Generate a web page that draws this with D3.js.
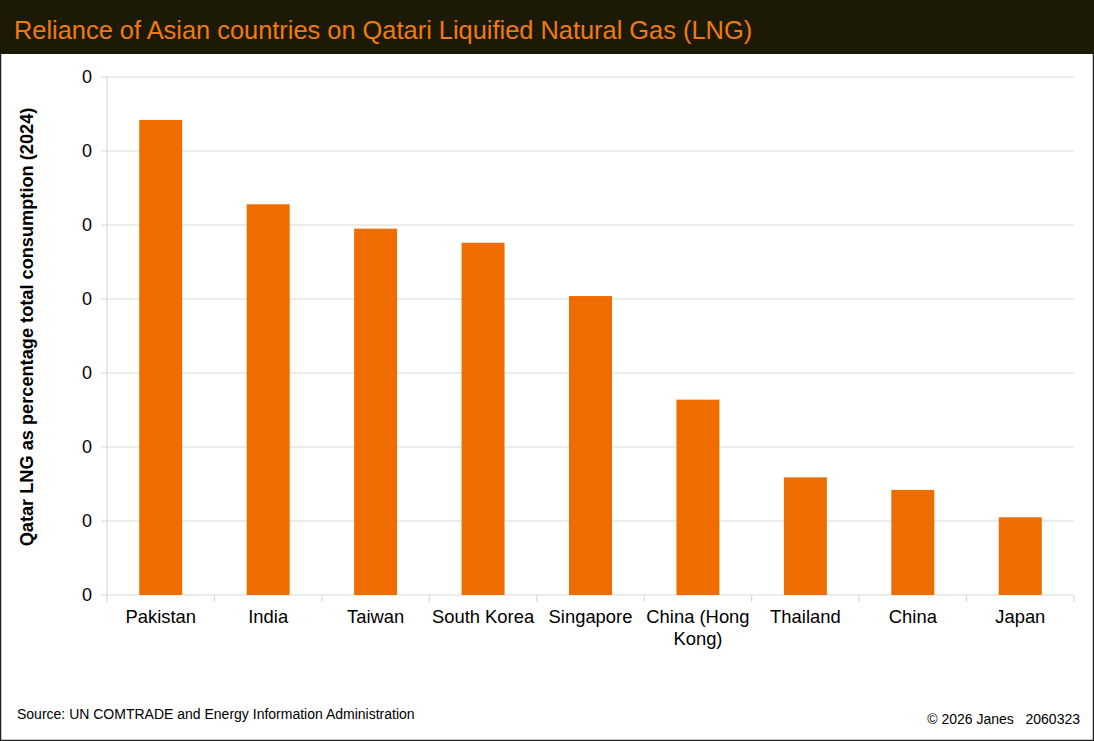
<!DOCTYPE html>
<html>
<head>
<meta charset="utf-8">
<script src="https://cdn.jsdelivr.net/npm/d3@7"></script>
<style>
  body { margin: 0; background: #fff; }
  svg { display: block; font-family: 'Liberation Sans', Arial, sans-serif; }
</style>
</head>
<body>
<svg id="chart" width="1094" height="741"></svg>
<script>
// data (share of consumption, 0..1)
var countries = ['Pakistan', 'India', 'Taiwan', 'South Korea', 'Singapore', 'China (Hong Kong)', 'Thailand', 'China', 'Japan']
var shares = [0.642, 0.528, 0.495, 0.476, 0.404, 0.264, 0.159, 0.142, 0.105]
var yTicks = [0, 0.1, 0.2, 0.3, 0.4, 0.5, 0.6, 0.7]

var W = 1094
var H = 741
var margin = { top: 77, left: 107, right: 20, bottom: 146 }
var plotW = W - margin.left - margin.right
var plotH = H - margin.top - margin.bottom

var svg = d3.select('#chart')

// frame + header band
svg.append('rect').attr('x', 0.5).attr('y', 0.5).attr('width', W - 1).attr('height', H - 1)
  .attr('fill', '#fff').attr('stroke', '#222').attr('stroke-width', 1.5)
svg.append('rect').attr('x', 0).attr('y', 0).attr('width', W).attr('height', 54).attr('fill', '#1c1a05')
svg.append('text').attr('x', 14).attr('y', 39).attr('fill', '#f07a10')
  .style('font-size', '25.4px').text('Reliance of Asian countries on Qatari Liquified Natural Gas (LNG)')

var g = svg.append('g').attr('transform', 'translate(' + margin.left + ',' + margin.top + ')')

var x = d3.scaleBand().domain(countries).range([0, plotW]).paddingInner(0.6).paddingOuter(0.3)
var y = d3.scaleLinear().domain([0, 0.7]).range([plotH, 0])

// gridlines
g.selectAll('.grid').data(yTicks).enter().append('line')
  .attr('x1', -6).attr('x2', plotW)
  .attr('y1', d => y(d)).attr('y2', d => y(d))
  .attr('stroke', '#d9d9d9').attr('stroke-width', 1.2)

// y axis line
g.append('line').attr('x1', 0).attr('x2', 0).attr('y1', 0).attr('y2', plotH)
  .attr('stroke', '#d9d9d9').attr('stroke-width', 1.2)

// y labels - the source formats with no decimals and shows every tick as 0
g.selectAll('.ylab').data(yTicks).enter().append('text')
  .attr('x', -15).attr('y', d => y(d)).attr('dy', '0.35em')
  .attr('text-anchor', 'end').style('font-size', '18px').attr('fill', '#000')
  .text(d => Math.floor(d))

// category ticks on the x baseline
var tickX = d3.range(countries.length + 1).map(i => i * plotW / countries.length)
g.selectAll('.xtick').data(tickX).enter().append('line')
  .attr('x1', d => d).attr('x2', d => d)
  .attr('y1', plotH).attr('y2', plotH + 7)
  .attr('stroke', '#d9d9d9').attr('stroke-width', 1.2)

// bars
g.selectAll('.bar').data(shares).enter().append('rect')
  .attr('x', (d, i) => x(countries[i]))
  .attr('y', d => y(d))
  .attr('width', x.bandwidth())
  .attr('height', d => plotH - y(d))
  .attr('fill', '#ef6c00')

// x labels, wrapped
var xlab = g.selectAll('.xlab').data(countries).enter().append('text')
  .attr('text-anchor', 'middle').style('font-size', '18.4px').attr('fill', '#000')
  .attr('transform', d => 'translate(' + (x(d) + x.bandwidth() / 2) + ',' + (plotH + 28) + ')')
xlab.each(function (d) {
  var lines = d === 'China (Hong Kong)' ? ['China (Hong', 'Kong)'] : [d]
  var t = d3.select(this)
  lines.forEach(function (l, i) {
    t.append('tspan').attr('x', 0).attr('dy', i === 0 ? 0 : 22).text(l)
  })
})

// y axis title
svg.append('text')
  .attr('transform', 'translate(33,327) rotate(-90)')
  .attr('text-anchor', 'middle').style('font-size', '18.2px').style('font-weight', 'bold')
  .text('Qatar LNG as percentage total consumption (2024)')

// footer
svg.append('text').attr('x', 17).attr('y', 719).style('font-size', '14px')
  .text('Source: UN COMTRADE and Energy Information Administration')
svg.append('text').attr('x', 1080).attr('y', 724).attr('text-anchor', 'end').style('font-size', '14px')
  .style('white-space', 'pre').text('\u00a9 2026 Janes   2060323')
</script>
</body>
</html>
